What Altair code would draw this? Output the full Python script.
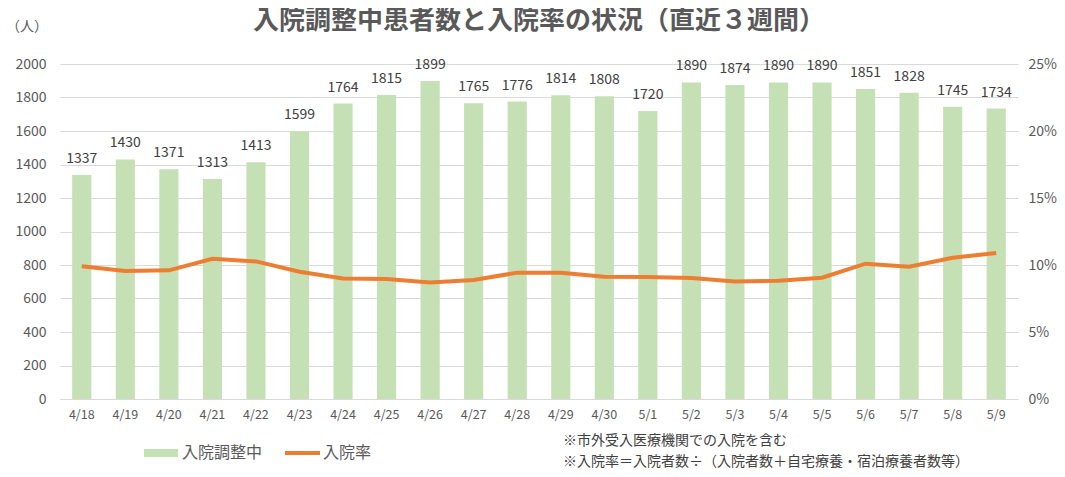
import altair as alt
import pandas as pd

dates = ["4/18","4/19","4/20","4/21","4/22","4/23","4/24","4/25","4/26","4/27","4/28",
         "4/29","4/30","5/1","5/2","5/3","5/4","5/5","5/6","5/7","5/8","5/9"]
patients = [1337,1430,1371,1313,1413,1599,1764,1815,1899,1765,1776,
            1814,1808,1720,1890,1874,1890,1890,1851,1828,1745,1734]
rate = [0.099,0.0955,0.096,0.1047,0.1027,0.095,0.090,0.0896,0.087,0.0888,0.0943,
        0.0943,0.0913,0.091,0.0903,0.0876,0.0883,0.0905,0.101,0.0987,0.1054,0.109]

title_text = "入院調整中患者数と入院率の状況（直近３週間）"
unit_label = "（人）"
legend_labels = ["入院調整中", "入院率"]
notes = ["※市外受入医療機関での入院を含む", "※入院率＝入院者数÷（入院者数＋自宅療養・宿泊療養者数等）"]

df = pd.DataFrame({"date": dates, "patients": patients, "rate": rate})

FONT = "Noto Sans CJK JP"
GRAY = "#595959"

x = alt.X("date:N", sort=dates, title=None,
          scale=alt.Scale(paddingInner=0.56, paddingOuter=0.28),
          axis=alt.Axis(labelAngle=0, labelFontSize=12.5, labelColor=GRAY, labelFont=FONT,
                        ticks=False, domainColor="#d9d9d9", labelPadding=9))

bars = alt.Chart(df).mark_bar(color="#c5e0b4").encode(
    x=x,
    y=alt.Y("patients:Q", title=None,
            scale=alt.Scale(domain=[0, 2000]),
            axis=alt.Axis(values=list(range(0, 2001, 200)), format="d", labelFontSize=14,
                          labelColor=GRAY, labelFont=FONT, ticks=False, domain=False,
                          gridColor="#d9d9d9", labelPadding=14))
)

bar_labels = alt.Chart(df).mark_text(dy=-16, fontSize=14, color="#404040", font=FONT).encode(
    x=alt.X("date:N", sort=dates),
    y=alt.Y("patients:Q", scale=alt.Scale(domain=[0, 2000]), axis=None),
    text=alt.Text("patients:Q", format="d")
)

line = alt.Chart(df).mark_line(color="#ed7d31", strokeWidth=4).encode(
    x=alt.X("date:N", sort=dates),
    y=alt.Y("rate:Q", title=None,
            scale=alt.Scale(domain=[0, 0.25]),
            axis=alt.Axis(orient="right", format="%", values=[0, 0.05, 0.1, 0.15, 0.2, 0.25],
                          labelFontSize=14, labelColor=GRAY, labelFont=FONT, ticks=False,
                          domain=False, grid=False, labelPadding=10))
)

title_mark = alt.Chart().mark_text(text=title_text, fontSize=26, fontWeight="bold", color=GRAY,
                                   font=FONT, align="center", baseline="middle").encode(
    x=alt.value(479), y=alt.value(-43))

unit = alt.Chart().mark_text(text=unit_label, fontSize=14, color=GRAY, font=FONT, align="left",
                             baseline="middle").encode(
    x=alt.value(-54), y=alt.value(-37))

leg_rect = alt.Chart().mark_rect(color="#c5e0b4").encode(
    x=alt.value(84), x2=alt.value(118), y=alt.value(385), y2=alt.value(393))
leg_t1 = alt.Chart().mark_text(text=legend_labels[0], fontSize=16, color=GRAY, font=FONT,
                               align="left", baseline="middle").encode(
    x=alt.value(122), y=alt.value(389))
leg_line = alt.Chart().mark_rule(color="#ed7d31", strokeWidth=4).encode(
    x=alt.value(225), x2=alt.value(260), y=alt.value(389))
leg_t2 = alt.Chart().mark_text(text=legend_labels[1], fontSize=16, color=GRAY, font=FONT,
                               align="left", baseline="middle").encode(
    x=alt.value(263), y=alt.value(389))
note1 = alt.Chart().mark_text(text=notes[0], fontSize=14, color="#404040", font=FONT,
                              align="left", baseline="middle").encode(
    x=alt.value(503), y=alt.value(377))
note2 = alt.Chart().mark_text(text=notes[1], fontSize=14, color="#404040", font=FONT,
                              align="left", baseline="middle").encode(
    x=alt.value(503), y=alt.value(398))

chart = alt.layer(
    bars, bar_labels, line, title_mark, unit, leg_rect, leg_t1, leg_line, leg_t2, note1, note2
).resolve_scale(y="independent").properties(
    width=958, height=335,
    autosize=alt.AutoSizeParams(type="none"),
    padding={"left": 52, "top": 56, "right": 39, "bottom": 70},
).configure_view(stroke=None)

chart.save("out.html", embed_options={"renderer": "svg", "actions": False})
